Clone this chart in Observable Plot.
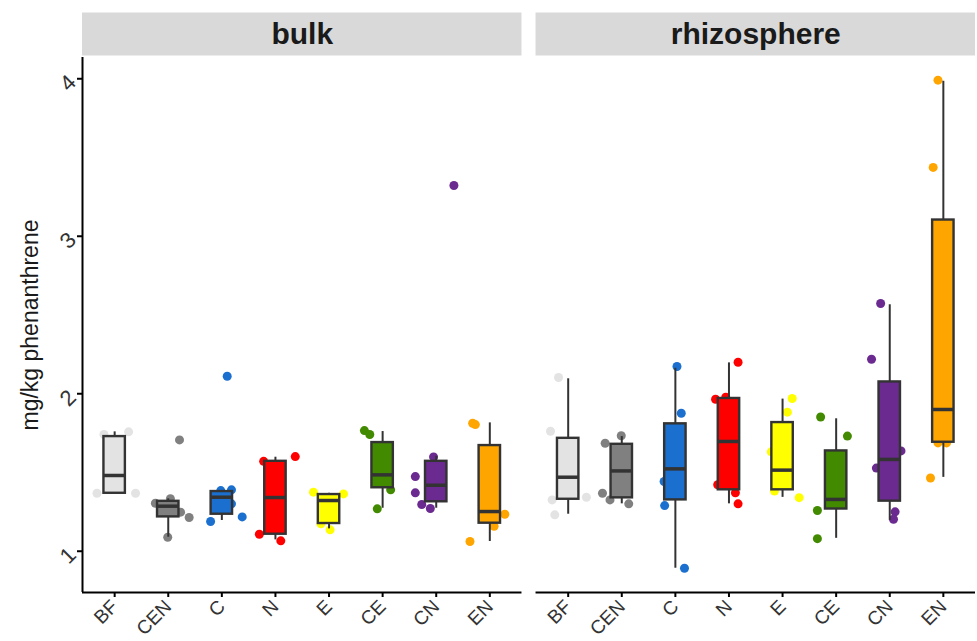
<!DOCTYPE html>
<html>
<head>
<meta charset="utf-8">
<script src="https://cdn.jsdelivr.net/npm/d3@7"></script>
<script src="https://cdn.jsdelivr.net/npm/@observablehq/plot@0.6"></script>
<style>
  html, body { margin: 0; padding: 0; background: #fff; overflow: hidden; }
  #chart svg { display: block; }
</style>
</head>
<body>
<div id="chart"></div>
<script>
// ---- categories ----
const groups = ["BF", "CEN", "C", "N", "E", "CE", "CN", "EN"];
const soils = ["bulk", "rhizosphere"];
const fills = ["#E3E3E3", "#808080", "#1A6FCF", "#FF0000", "#FFFF00", "#428A00", "#6A2A90", "#FFA500"];
const yLabel = "mg/kg phenanthrene";
const yTicks = [1, 2, 3, 4];

// ---- box statistics (bulk) ----
const bulkLow    = [1.368, 1.089, 1.195, 1.072, 1.142, 1.273, 1.273, 1.062];
const bulkQ1     = [1.368, 1.218, 1.235, 1.108, 1.176, 1.403, 1.314, 1.178];
const bulkMedian = [1.481, 1.286, 1.343, 1.341, 1.322, 1.485, 1.419, 1.252];
const bulkQ3     = [1.728, 1.317, 1.379, 1.571, 1.360, 1.690, 1.571, 1.671];
const bulkHigh   = [1.758, 1.333, 1.385, 1.597, 1.368, 1.760, 1.603, 1.815];

// ---- box statistics (rhizosphere) ----
const rhizoLow    = [1.235, 1.301, 0.892, 1.301, 1.342, 1.082, 1.196, 1.469];
const rhizoQ1     = [1.330, 1.339, 1.326, 1.390, 1.390, 1.268, 1.318, 1.692];
const rhizoMedian = [1.470, 1.510, 1.523, 1.697, 1.515, 1.329, 1.583, 1.900];
const rhizoQ3     = [1.717, 1.679, 1.809, 1.970, 1.817, 1.637, 2.075, 3.103];
const rhizoHigh   = [2.095, 1.728, 2.162, 2.196, 1.966, 1.841, 2.565, 3.984];

// ---- individual samples (bulk) ----
const bulkPointGroup = [
  "BF","BF","BF","BF","BF",
  "CEN","CEN","CEN","CEN","CEN","CEN",
  "C","C","C","C","C","C",
  "N","N","N","N",
  "E","E","E","E","E",
  "CE","CE","CE","CE","CE",
  "CN","CN","CN","CN","CN","CN",
  "EN","EN","EN","EN","EN"];
const bulkPointValue = [
  1.741, 1.758, 1.368, 1.368, 1.481,
  1.305, 1.333, 1.707, 1.248, 1.214, 1.089,
  1.385, 1.390, 1.301, 1.189, 1.218, 2.111,
  1.571, 1.601, 1.108, 1.066,
  1.375, 1.364, 1.136, 1.174, 1.322,
  1.766, 1.741, 1.390, 1.269, 1.485,
  1.599, 1.474, 1.371, 1.297, 1.271, 3.322,
  1.813, 1.804, 1.235, 1.159, 1.062];
const bulkPointJitter = [
  -0.20, 0.26, -0.33, 0.39, 0.00,
  -0.24, 0.04, 0.21, 0.23, 0.39, -0.01,
  -0.02, 0.18, 0.18, -0.21, 0.38, 0.10,
  -0.22, 0.37, -0.30, 0.10,
  -0.29, 0.27, 0.02, -0.15, 0.10,
  -0.34, -0.24, 0.15, -0.10, 0.07,
  -0.05, -0.39, -0.39, -0.27, -0.11, 0.33,
  -0.32, -0.27, 0.28, 0.08, -0.37];

// ---- individual samples (rhizosphere) ----
const rhizoPointGroup = [
  "BF","BF","BF","BF","BF",
  "CEN","CEN","CEN","CEN","CEN",
  "C","C","C","C","C",
  "N","N","N","N","N","N",
  "E","E","E","E","E",
  "CE","CE","CE","CE",
  "CN","CN","CN","CN","CN","CN",
  "EN","EN","EN","EN","EN"];
const rhizoPointValue = [
  2.103, 1.762, 1.326, 1.343, 1.231,
  1.686, 1.733, 1.368, 1.326, 1.301,
  2.173, 1.876, 1.443, 1.290, 0.892,
  2.200, 1.965, 1.978, 1.422, 1.371, 1.301,
  1.970, 1.883, 1.631, 1.382, 1.340,
  1.852, 1.731, 1.259, 1.080,
  2.573, 2.219, 1.528, 1.637, 1.250, 1.203,
  3.991, 3.437, 1.465, 1.688, 1.688];
const rhizoPointJitter = [
  -0.18, -0.33, -0.30, 0.34, -0.25,
  -0.31, -0.01, -0.36, -0.22, 0.13,
  0.03, 0.11, -0.21, -0.20, 0.17,
  0.17, -0.25, -0.06, -0.21, 0.12, 0.17,
  0.18, 0.09, -0.21, -0.15, 0.31,
  -0.29, 0.21, -0.35, -0.35,
  -0.17, -0.34, -0.25, 0.21, 0.10, 0.07,
  -0.10, -0.19, -0.24, -0.10, 0.06];

// ---- tables built from the arrays ----
const xDomain = [-0.6, groups.length - 1 + 0.6];
const yDomain = [0.738, 4.135];
const half = 0.2;

const boxStats = {
  bulk: [bulkLow, bulkQ1, bulkMedian, bulkQ3, bulkHigh],
  rhizosphere: [rhizoLow, rhizoQ1, rhizoMedian, rhizoQ3, rhizoHigh]
};
const boxes = soils.flatMap(soil => groups.map((g, i) => {
  const [lo, q1, med, q3, hi] = boxStats[soil];
  return {soil, g, i, low: lo[i], q1: q1[i], med: med[i], q3: q3[i], high: hi[i]};
}));

const points = [
  ...bulkPointGroup.map((g, k) => ({soil: "bulk", i: groups.indexOf(g), value: bulkPointValue[k], jitter: bulkPointJitter[k]})),
  ...rhizoPointGroup.map((g, k) => ({soil: "rhizosphere", i: groups.indexOf(g), value: rhizoPointValue[k], jitter: rhizoPointJitter[k]}))
];

const chart = Plot.plot({
  width: 977,
  height: 641,
  marginLeft: 82,
  marginRight: 2,
  marginTop: 57,
  marginBottom: 49,
  style: {fontFamily: "'Liberation Sans', Arial, sans-serif", background: "#fff"},
  fx: {domain: soils, paddingInner: 0.031, paddingOuter: 0, round: false, axis: null, label: null},
  x: {domain: xDomain, axis: null},
  y: {domain: yDomain, axis: null},
  color: {type: "identity"},
  marks: [
    // strip backgrounds and labels
    Plot.ruleY([yDomain[1]], {dy: -23.5, strokeWidth: 43, stroke: "#D9D9D9"}),
    Plot.text(soils, {fx: d => d, text: d => d, frameAnchor: "top", lineAnchor: "middle", dy: -23, fontSize: 30, fontWeight: "bold", fill: "#1a1a1a"}),
    // samples
    Plot.dot(points, {fx: "soil", x: d => d.i + d.jitter, y: "value", r: 4.5, fill: d => fills[d.i], stroke: "none"}),
    // whiskers
    Plot.ruleX(boxes, {fx: "soil", x: "i", y1: "q3", y2: "high", stroke: "#333", strokeWidth: 2}),
    Plot.ruleX(boxes, {fx: "soil", x: "i", y1: "low", y2: "q1", stroke: "#333", strokeWidth: 2}),
    // boxes
    Plot.rect(boxes, {fx: "soil", x1: d => d.i - half, x2: d => d.i + half, y1: "q1", y2: "q3", fill: d => fills[d.i], stroke: "#333", strokeWidth: 2.4}),
    // medians
    Plot.ruleY(boxes, {fx: "soil", x1: d => d.i - half, x2: d => d.i + half, y: "med", stroke: "#333", strokeWidth: 3.5}),
    // axes
    Plot.axisX({ticks: d3.range(groups.length), tickFormat: i => groups[i], tickRotate: -45, tickSize: 5, tickPadding: 6, strokeWidth: 2, stroke: "#000", fill: "#333", fontSize: 19, label: null}),
    Plot.axisY({ticks: yTicks, tickFormat: d => String(d), tickRotate: -45, tickSize: 5, tickPadding: 5, strokeWidth: 2, stroke: "#000", fill: "#333", fontSize: 22, label: null}),
    Plot.ruleY([yDomain[0]], {stroke: "#000", strokeWidth: 2}),
    Plot.ruleX(["bulk"], {fx: d => d, x: () => xDomain[0], stroke: "#000", strokeWidth: 2}),
    Plot.text(["bulk"], {fx: d => d, text: () => yLabel, frameAnchor: "left", textAnchor: "middle", dx: -52, rotate: -90, fontSize: 23, fill: "#1a1a1a"})
  ]
});
document.getElementById("chart").appendChild(chart);
</script>
</body>
</html>
